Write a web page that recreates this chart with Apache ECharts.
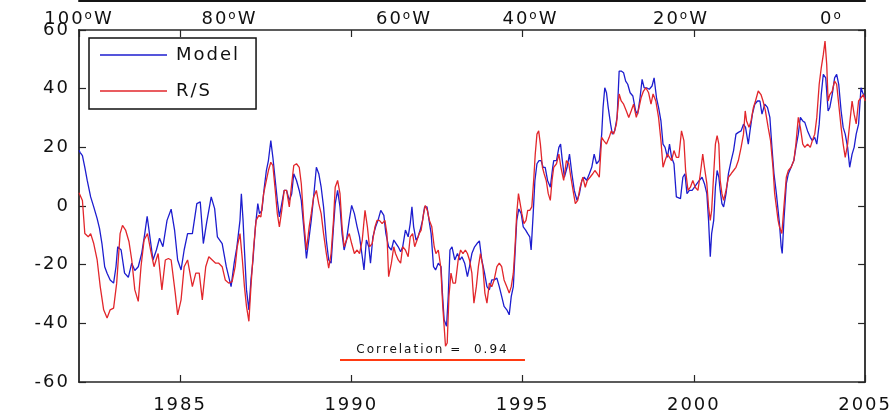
<!DOCTYPE html>
<html><head><meta charset="utf-8">
<script src="https://cdn.jsdelivr.net/npm/echarts@6/dist/echarts.min.js"></script>
<style>html,body{margin:0;padding:0;background:#fff}#c{width:895px;height:415px}</style>
</head><body><div id="c"></div>
<script>
// [decimal year, value]
const modelData = [
[1982.05,19],[1982.08,18.3],[1982.15,17.2],[1982.22,13.2],[1982.29,8.7],[1982.39,3.1],[1982.48,-0.3],[1982.58,-4.3],[1982.65,-7.7],[1982.72,-12.8],[1982.80,-20.7],[1982.87,-22.9],[1982.96,-25.2],[1983.06,-26.3],[1983.13,-20.7],[1983.18,-13.9],[1983.28,-15],[1983.38,-22.9],[1983.49,-24.3],[1983.59,-19.5],[1983.68,-22],[1983.78,-20.7],[1983.88,-16.2],[1983.97,-9.4],[1984.04,-3.5],[1984.12,-10.5],[1984.21,-18.4],[1984.31,-15],[1984.40,-11],[1984.50,-13.9],[1984.62,-4.9],[1984.74,-1.1],[1984.84,-8.2],[1984.93,-18.4],[1985.03,-21.8],[1985.12,-15],[1985.22,-9.4],[1985.36,-9.4],[1985.49,0.8],[1985.59,1.4],[1985.68,-12.8],[1985.78,-5.4],[1985.91,3.1],[1986.01,-0.9],[1986.09,-10.5],[1986.23,-12.8],[1986.35,-20.7],[1986.49,-27.5],[1986.58,-19.5],[1986.66,-13.9],
[1986.75,-4.9],[1986.79,4.2],[1986.84,-4.9],[1986.88,-15],[1986.94,-28.6],[1987.01,-35.4],[1987.07,-25.2],[1987.13,-18.4],[1987.20,-7.1],[1987.27,0.8],[1987.32,-2.6],[1987.39,-1.5],[1987.46,6.4],[1987.52,12.1],[1987.58,15.5],[1987.65,22.3],[1987.71,16.6],[1987.78,8.7],[1987.84,1.9],[1987.90,-3.7],[1987.97,0.8],[1988.04,5.3],[1988.11,5.3],[1988.19,1.9],[1988.26,4.2],[1988.32,11],[1988.40,8.7],[1988.48,5.3],[1988.54,1.9],[1988.61,-7.1],[1988.69,-17.9],[1988.77,-10.5],[1988.83,-4.9],[1988.90,3.1],[1988.98,13.2],[1989.05,11],[1989.12,6.4],[1989.19,-0.3],[1989.27,-11.6],[1989.34,-18.4],[1989.41,-19.5],[1989.48,-7.1],[1989.53,0.8],[1989.60,5.3],[1989.67,-0.3],[1989.73,-9.4],[1989.79,-15],[1989.86,-11.6],[1989.94,-4.9],[1990.01,0.2],[1990.09,-2.6],[1990.17,-7.1],[1990.24,-10.5],[1990.32,-17.3],[1990.37,-21.8],[1990.44,-11.6],[1990.51,-13.9],[1990.56,-19.5],[1990.63,-10.5],[1990.71,-7.1],[1990.78,-4.9],[1990.86,-1.5],[1990.95,-3.2],[1991.01,-9.4],[1991.09,-13.9],[1991.17,-15],[1991.24,-11.6],
[1991.29,-11.6],[1991.37,-13.9],[1991.44,-15.6],[1991.50,-13.9],[1991.58,-8.2],[1991.66,-10.5],[1991.72,-6],[1991.77,-0.3],[1991.82,-7.1],[1991.89,-11.6],[1991.95,-10.5],[1992.01,-8.2],[1992.08,-4.9],[1992.14,-0.3],[1992.21,-0.3],[1992.27,-4.9],[1992.33,-9.4],[1992.40,-20.7],[1992.46,-21.8],[1992.54,-19.5],[1992.62,-20.7],[1992.66,-29.7],[1992.71,-38.8],[1992.78,-41],[1992.83,-30.8],[1992.88,-15],[1992.94,-13.9],[1993.02,-18.4],[1993.10,-16.2],[1993.17,-18.4],[1993.23,-17.3],[1993.31,-19.5],[1993.39,-24.1],[1993.45,-20.7],[1993.52,-16.2],[1993.60,-13.9],[1993.67,-12.8],[1993.74,-11.9],[1993.81,-18.4],[1993.89,-22.9],[1993.96,-27.5],[1994.03,-28.6],[1994.10,-25.2],[1994.17,-25.2],[1994.25,-24.6],[1994.32,-27.5],[1994.39,-30.8],[1994.46,-34.2],[1994.54,-35.4],[1994.61,-37.1],[1994.67,-30.8],[1994.73,-27.5],[1994.78,-16.2],[1994.83,-4.9],[1994.89,-1],[1994.96,-2.6],[1995.02,-7.1],[1995.09,-8.2],[1995.15,-9.4],[1995.21,-10.5],[1995.25,-15],[1995.31,-2.6],[1995.36,8.7],[1995.42,14.4],[1995.48,15.5],[1995.54,15.5],[1995.60,13.2],[1995.66,13.2],[1995.73,8.7],[1995.81,6.4],[1995.88,13.2],
[1995.91,15.5],[1995.99,15.5],[1996.06,20],[1996.11,21.1],[1996.15,16.6],[1996.22,9.8],[1996.30,13.2],[1996.37,17.7],[1996.44,11],[1996.51,5.3],[1996.59,1.9],[1996.66,4.2],[1996.73,8.7],[1996.80,9.8],[1996.87,8.7],[1996.95,11],[1997.02,13.2],[1997.09,17.7],[1997.16,14.4],[1997.24,15.5],[1997.31,24.5],[1997.35,33.6],[1997.40,40.3],[1997.45,38.6],[1997.50,33.6],[1997.57,27.9],[1997.62,24.5],[1997.69,25.6],[1997.76,30.2],[1997.82,46],[1997.88,46],[1997.95,45.4],[1998.01,42.6],[1998.07,41.5],[1998.14,38.6],[1998.22,37.5],[1998.30,32.4],[1998.36,31.3],[1998.43,36.9],[1998.49,43.2],[1998.55,40.3],[1998.62,40.3],[1998.70,39.8],[1998.78,40.9],[1998.84,43.7],[1998.91,36.9],[1998.97,33.6],[1999.04,29],[1999.10,21.1],[1999.16,20],[1999.23,16.6],[1999.29,21.1],[1999.35,16.6],[1999.42,14.4],[1999.49,3.1],[1999.54,2.5],[1999.61,2.5],[1999.68,9.8],[1999.74,11],[1999.80,4.2],[1999.87,5.3],[1999.95,5.3],[2000.02,6.4],[2000.09,7.6],[2000.16,8.7],[2000.24,9.8],[2000.31,7.6],[2000.38,4.2],[2000.43,-4.9],[2000.48,-17.3],[2000.52,-9.4],
[2000.58,-4.9],[2000.63,6.4],[2000.68,12.1],[2000.73,9.8],[2000.77,5.3],[2000.82,0.8],[2000.87,-0.3],[2000.94,4.2],[2001.01,11],[2001.09,15.5],[2001.16,18.9],[2001.23,24.5],[2001.30,25.1],[2001.38,25.6],[2001.45,27.9],[2001.51,26.8],[2001.59,21.1],[2001.64,25.6],[2001.71,31.3],[2001.78,34.7],[2001.86,35.8],[2001.93,35.8],[2001.99,31.3],[2002.07,34.7],[2002.15,33.6],[2002.22,30.2],[2002.28,20],[2002.34,11],[2002.41,4.2],[2002.46,-1.5],[2002.50,-6],[2002.55,-13.9],[2002.58,-16.2],[2002.63,-4.9],[2002.70,7.6],[2002.76,11],[2002.84,13.2],[2002.92,15.5],[2002.98,20],[2003.05,24.5],[2003.11,30.2],[2003.18,29],[2003.24,28.5],[2003.32,25.6],[2003.40,23.4],[2003.46,22.3],[2003.53,23.4],[2003.59,21.1],[2003.66,27.9],[2003.72,38],[2003.78,44.9],[2003.85,43.7],[2003.92,32.4],[2003.97,33.6],[2004.04,38],[2004.11,43.7],[2004.17,44.9],[2004.23,41.5],[2004.30,32.4],[2004.36,26.8],[2004.42,24.5],[2004.49,20],[2004.55,13.2],[2004.62,17.7],[2004.68,20],[2004.74,24.5],[2004.81,27.9],[2004.88,40.3],[2004.93,38.6],[2005.00,36.9]
];
const rsData = [
[1982.05,4.5],[1982.08,4.2],[1982.15,1.9],[1982.22,-9.4],[1982.32,-10.5],[1982.39,-9.4],[1982.48,-12.8],[1982.58,-18.4],[1982.67,-27.5],[1982.77,-35.4],[1982.87,-38.2],[1982.96,-35.4],[1983.06,-34.8],[1983.15,-26.3],[1983.25,-9.4],[1983.32,-6.6],[1983.41,-8.2],[1983.51,-12.2],[1983.59,-18.4],[1983.68,-28.6],[1983.78,-32.5],[1983.86,-20.7],[1983.95,-11.6],[1984.05,-9.4],[1984.14,-15],[1984.24,-20.7],[1984.36,-16.2],[1984.47,-28.6],[1984.57,-18.4],[1984.66,-17.9],[1984.74,-18.4],[1984.86,-29.7],[1984.93,-37.1],[1985.03,-32],[1985.12,-20.7],[1985.22,-18.4],[1985.36,-27.5],[1985.46,-22.9],[1985.56,-22.9],[1985.65,-32],[1985.75,-20.7],[1985.84,-17.3],[1985.94,-18.4],[1986.04,-19.5],[1986.13,-19.5],[1986.23,-20.7],[1986.32,-25.2],[1986.42,-26.3],[1986.52,-25.8],[1986.61,-20.7],
[1986.67,-13.9],[1986.75,-9.4],[1986.82,-18.4],[1986.88,-27.5],[1986.94,-34.2],[1987.01,-39.3],[1987.07,-27.5],[1987.15,-13.9],[1987.22,-4.9],[1987.30,-3.2],[1987.36,-3.7],[1987.44,4.2],[1987.52,8.7],[1987.58,12.1],[1987.65,14.9],[1987.71,13.8],[1987.78,5.3],[1987.84,-2.6],[1987.90,-7.1],[1987.97,-1.5],[1988.04,5.3],[1988.11,5.3],[1988.19,-0.3],[1988.26,7.6],[1988.32,13.8],[1988.40,14.4],[1988.48,13.2],[1988.54,7.6],[1988.61,-4.9],[1988.69,-15],[1988.77,-7.1],[1988.83,-2.6],[1988.90,3.1],[1988.98,5.3],[1989.05,0.8],[1989.12,-2.6],[1989.19,-9.4],[1989.27,-16.2],[1989.34,-21.2],[1989.41,-16.2],[1989.48,-4.9],[1989.53,6.4],[1989.60,8.7],[1989.67,4.2],[1989.73,-7.1],[1989.79,-13.9],[1989.86,-11.6],[1989.94,-9.4],[1990.01,-12.8],[1990.09,-16.2],[1990.17,-15],[1990.24,-16.2],[1990.32,-11.6],[1990.40,-1.5],[1990.47,-7.1],[1990.53,-13.9],[1990.61,-12.8],[1990.69,-7.1],[1990.75,-4.9],[1990.82,-4.9],[1990.90,-6],[1990.98,-4.9],[1991.04,-9.4],[1991.09,-24.1],[1991.17,-19.5],[1991.24,-13.9],
[1991.29,-16.2],[1991.37,-18.4],[1991.44,-19.5],[1991.50,-13.9],[1991.58,-15],[1991.66,-17.3],[1991.72,-10.5],[1991.79,-9.4],[1991.85,-13.9],[1991.92,-11.6],[1991.98,-9.4],[1992.04,-8.2],[1992.11,-2.6],[1992.16,0.2],[1992.22,-1.5],[1992.28,-4.9],[1992.35,-7.1],[1992.42,-13.9],[1992.47,-16.2],[1992.54,-15],[1992.61,-20.7],[1992.67,-34.2],[1992.71,-41],[1992.75,-47.8],[1992.80,-46.7],[1992.85,-30.8],[1992.91,-22.9],[1992.97,-26.3],[1993.04,-26.3],[1993.12,-18.4],[1993.19,-15],[1993.26,-16.2],[1993.33,-15],[1993.39,-16.2],[1993.45,-18.4],[1993.52,-22.9],[1993.58,-33.1],[1993.65,-27.5],[1993.71,-20.7],[1993.77,-16.2],[1993.84,-20.7],[1993.90,-29.7],[1993.96,-33.1],[1994.03,-26.3],[1994.10,-27.5],[1994.17,-25.2],[1994.25,-20.7],[1994.32,-19.5],[1994.39,-20.7],[1994.46,-25.2],[1994.54,-27.5],[1994.61,-29.7],[1994.67,-27.5],[1994.73,-22.9],[1994.78,-13.9],[1994.83,-2.6],[1994.88,4.2],[1994.92,4.2],[1994.98,-2.6],[1995.04,-6],[1995.10,-4.9],[1995.15,-1.5],[1995.21,-1.5],[1995.27,-0.3],[1995.33,9.8],[1995.37,17.7],[1995.42,24.5],[1995.47,25.6],[1995.52,21.1],[1995.58,13.2],[1995.63,11],[1995.69,8.7],[1995.75,4.2],[1995.81,1.9],[1995.86,8.7],
[1995.91,13.2],[1995.99,14.4],[1996.06,17.7],[1996.12,13.2],[1996.20,8.7],[1996.28,15.5],[1996.35,14.4],[1996.41,9.8],[1996.49,4.2],[1996.54,0.8],[1996.61,1.9],[1996.68,6.4],[1996.76,9.8],[1996.83,6.4],[1996.89,8.7],[1996.97,9.8],[1997.05,11],[1997.11,12.1],[1997.18,11],[1997.24,9.8],[1997.31,23.4],[1997.37,22.3],[1997.45,21.1],[1997.53,23.4],[1997.59,25.6],[1997.66,24.5],[1997.74,27.9],[1997.82,38.2],[1997.88,35.8],[1997.95,34.7],[1998.03,32.4],[1998.10,30.2],[1998.17,32.4],[1998.24,34.7],[1998.32,30.2],[1998.39,33],[1998.46,36.9],[1998.53,39.2],[1998.60,40.3],[1998.68,38.6],[1998.75,34.7],[1998.81,38.2],[1998.89,35.8],[1998.97,30.2],[1999.04,22.3],[1999.10,13.2],[1999.16,15.5],[1999.23,17.7],[1999.29,16.6],[1999.35,15.5],[1999.42,18.9],[1999.49,16.6],[1999.56,16.6],[1999.64,25.6],[1999.71,22.3],[1999.76,12.1],[1999.83,5.3],[1999.90,6.4],[1999.97,8.7],[2000.04,6.4],[2000.12,5.3],[2000.19,11],[2000.26,17.7],[2000.31,13.2],[2000.38,7.6],[2000.43,-0.3],[2000.48,-4.9],[2000.52,-1.5],
[2000.58,11],[2000.63,21.1],[2000.68,24],[2000.73,21.1],[2000.77,8.7],[2000.82,4.2],[2000.87,1.9],[2000.94,5.3],[2001.01,9.8],[2001.09,11],[2001.16,12.1],[2001.23,13.2],[2001.30,15.5],[2001.38,20],[2001.45,24.5],[2001.50,32.4],[2001.54,29],[2001.61,26.8],[2001.67,29],[2001.74,33.6],[2001.80,35.8],[2001.88,39.2],[2001.96,38],[2002.02,35.8],[2002.09,32.4],[2002.17,26.8],[2002.24,22.3],[2002.31,13.2],[2002.36,4.2],[2002.41,-0.3],[2002.46,-4.9],[2002.50,-7.1],[2002.57,-9.4],[2002.63,-0.3],[2002.70,9.8],[2002.76,12.1],[2002.84,13.2],[2002.92,15.5],[2002.98,21.1],[2003.05,30.2],[2003.11,26.8],[2003.18,21.1],[2003.24,20],[2003.32,21.1],[2003.40,20],[2003.46,22.3],[2003.53,24.5],[2003.59,30.2],[2003.66,41.5],[2003.72,47.1],[2003.78,51.6],[2003.83,56.2],[2003.88,48.2],[2003.92,35.8],[2003.97,38],[2004.04,39.2],[2004.11,42.6],[2004.17,41.5],[2004.23,34.7],[2004.30,26.8],[2004.36,21.1],[2004.42,16.6],[2004.49,21.1],[2004.55,28],[2004.62,35.8],[2004.68,31.3],[2004.74,28],[2004.81,35.8],[2004.88,36.9],[2004.95,38],[2005.00,35.8]
];
const seriesNames = ['Model', 'R/S'];
const yearRange = [1982.05, 2005];
const valueRange = [-60, 60];
const lonRange = [-100, 4.47];
const correlationText = 'Correlation =  0.94';
const correlationLine = [[1989.67, -52.5], [1995.07, -52.5]];

// the reference's lettering is set wide; add tracking to every canvas context
(function () {
  const orig = HTMLCanvasElement.prototype.getContext;
  HTMLCanvasElement.prototype.getContext = function (type, opts) {
    const ctx = orig.call(this, type, opts);
    if (ctx && type === '2d' && 'letterSpacing' in ctx) ctx.letterSpacing = '2px';
    return ctx;
  };
})();

const FONT = 'DejaVu Sans';
const AX = '#262626';
const chart = echarts.init(document.getElementById('c'));
const boxAxis = (pos, labels) => ({
  type: 'value', min: yearRange[0], max: yearRange[1], splitNumber: 5, position: pos,
  axisLine: {show: true, onZero: false, lineStyle: {color: AX, width: 1.6}},
  axisTick: {show: true, inside: true, length: 7, lineStyle: {color: AX, width: 1.2}},
  axisLabel: {show: labels, showMinLabel: false, margin: 13, color: '#111', fontSize: 18, fontFamily: FONT,
    formatter: v => String(Math.round(v))},
  splitLine: {show: false}
});
chart.setOption({
  animation: false,
  backgroundColor: '#fff',
  grid: {left: 79, right: 21, top: 30, bottom: 29},
  legend: {
    orient: 'vertical', left: 89, top: 38, itemWidth: 67, itemHeight: 1.4, itemGap: 16, icon: 'rect',
    padding: [7, 16, 8, 11], borderColor: '#111', borderWidth: 1.5, backgroundColor: '#fff',
    textStyle: {fontSize: 18, fontFamily: FONT, color: '#111', padding: [0, 0, 0, 4]},
    data: seriesNames
  },
  xAxis: [
    boxAxis('bottom', true),
    boxAxis('top', false),
    {
      type: 'value', min: lonRange[0], max: lonRange[1], interval: 20, position: 'top',
      axisLine: {show: false}, axisTick: {show: false}, splitLine: {show: false},
      axisLabel: {show: true, showMaxLabel: false, margin: 1, color: '#111', fontSize: 18, fontFamily: FONT,
        formatter: v => {
          const k = Math.round(v);
          if (k === 0) return '0{o|o}';
          return (k === -60 ? '{d|' + (-k) + '}' : String(-k)) + '{o|o}W';
        },
        rich: {
          o: {fontSize: 12, fontFamily: FONT, color: '#111', verticalAlign: 'top', lineHeight: 12},
          d: {fontSize: 18, fontFamily: FONT, color: '#111', padding: [0, 0, 0, 48]}
        }
      }
    },
    {
      type: 'value', min: 0, max: 1, position: 'top', offset: 29,
      axisLine: {show: true, onZero: false, lineStyle: {color: '#151515', width: 2}},
      axisTick: {show: false}, axisLabel: {show: false}, splitLine: {show: false}
    }
  ],
  yAxis: [
    {
      type: 'value', min: valueRange[0], max: valueRange[1], interval: 20, position: 'left',
      axisLine: {show: true, onZero: false, lineStyle: {color: AX, width: 1.8}},
      axisTick: {show: true, inside: true, length: 7, lineStyle: {color: AX, width: 1.2}},
      axisLabel: {margin: 9, color: '#111', fontSize: 18, fontFamily: FONT},
      splitLine: {show: false}
    },
    {
      type: 'value', min: valueRange[0], max: valueRange[1], interval: 20, position: 'right',
      axisLine: {show: true, onZero: false, lineStyle: {color: AX, width: 1.8}},
      axisTick: {show: true, inside: true, length: 7, lineStyle: {color: AX, width: 1.2}},
      axisLabel: {show: false}, splitLine: {show: false}
    }
  ],
  series: [
    {
      name: seriesNames[0], type: 'line', data: modelData, xAxisIndex: 0, yAxisIndex: 0,
      symbol: 'none', lineStyle: {color: '#1d1dcf', width: 1.3}, itemStyle: {color: '#1d1dcf'}
    },
    {
      name: seriesNames[1], type: 'line', data: rsData, xAxisIndex: 0, yAxisIndex: 0,
      symbol: 'none', lineStyle: {color: '#e2262b', width: 1.3}, itemStyle: {color: '#e2262b'},
      markLine: {
        silent: true, symbol: ['none', 'none'], animation: false,
        lineStyle: {color: '#ff3a12', width: 2, type: 'solid'},
        label: {show: true, position: 'insideMiddleTop', distance: 3, formatter: correlationText,
          color: '#111', fontSize: 12, fontFamily: FONT},
        data: [[{coord: correlationLine[0]}, {coord: correlationLine[1]}]]
      }
    }
  ]
});
</script></body></html>
